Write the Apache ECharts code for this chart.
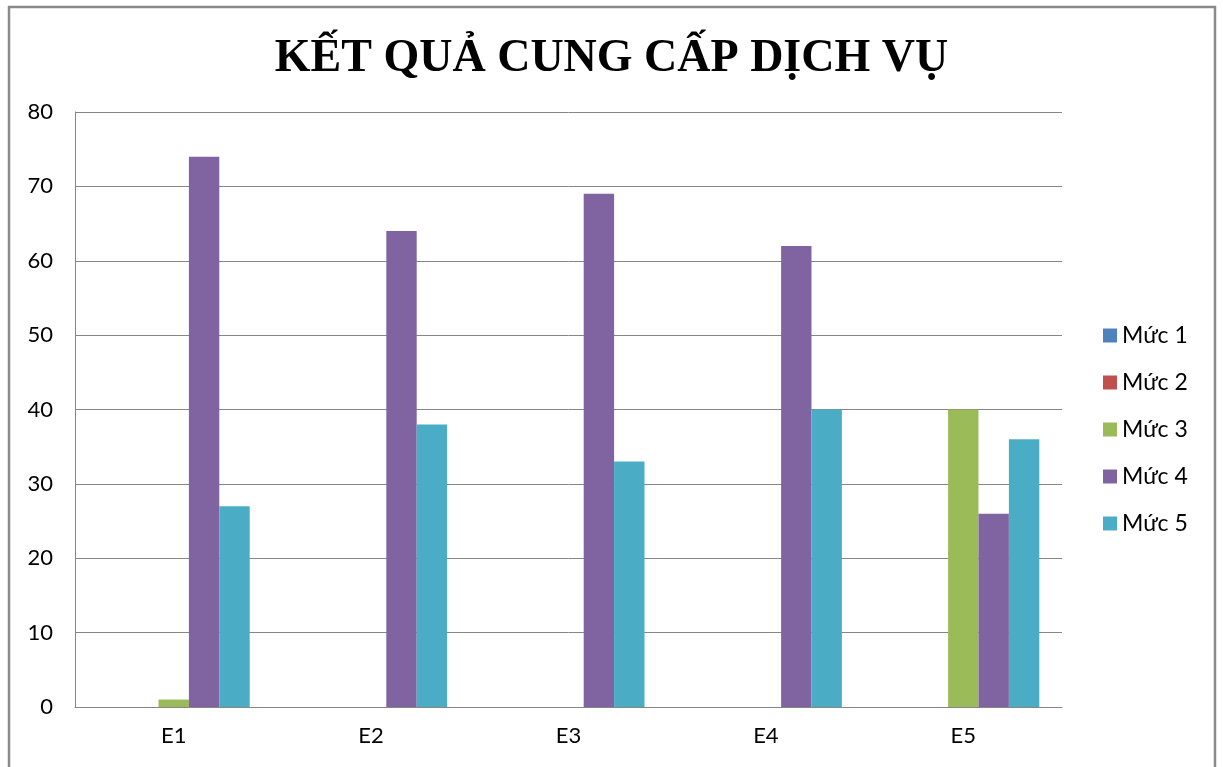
<!DOCTYPE html>
<html>
<head>
<meta charset="utf-8">
<script src="https://cdn.jsdelivr.net/npm/echarts@6/dist/echarts.min.js"></script>
<style>
  html, body { margin: 0; padding: 0; background: #fff; }
  #chart { width: 1223px; height: 767px; }
</style>
</head>
<body>
<div id="chart"></div>
<script>
// data
const categories = ["E1", "E2", "E3", "E4", "E5"];
const muc1 = [0, 0, 0, 0, 0];
const muc2 = [0, 0, 0, 0, 0];
const muc3 = [1, 0, 0, 0, 40];
const muc4 = [74, 64, 69, 62, 26];
const muc5 = [27, 38, 33, 40, 36];
const seriesNames = ["Mức 1", "Mức 2", "Mức 3", "Mức 4", "Mức 5"];
const colors = ["#4F81BD", "#C0504D", "#9BBB59", "#8064A2", "#4BACC6"];

const chart = echarts.init(document.getElementById("chart"));
const allValues = [muc1, muc2, muc3, muc4, muc5];

const option = {
  animation: false,
  color: colors,
  title: {
    text: "KẾT QUẢ CUNG CẤP DỊCH VỤ",
    left: "center",
    top: 31,
    textStyle: {
      fontFamily: "Liberation Serif",
      fontWeight: "bold",
      fontSize: 46,
      color: "#000"
    }
  },
  graphic: [{
    type: "rect",
    shape: { x: 9, y: 7, width: 1206, height: 800 },
    style: { fill: "none", stroke: "#8a8a8a", lineWidth: 2.5 },
    silent: true
  }],
  legend: {
    orient: "vertical",
    left: 1098,
    top: 319,
    itemWidth: 14,
    itemHeight: 14,
    itemGap: 24,
    icon: "rect",
    textStyle: { fontFamily: "Lato", fontSize: 23, color: "#000", padding: [0, 0, 0, 0] },
    data: seriesNames
  },
  grid: { left: 75, right: 161, top: 112, bottom: 60 },
  xAxis: {
    type: "category",
    data: categories,
    axisLine: { lineStyle: { color: "#868686", width: 1 } },
    axisTick: { show: false },
    axisLabel: { fontFamily: "Lato", fontSize: 22, color: "#000", margin: 18 }
  },
  yAxis: {
    type: "value",
    min: 0,
    max: 80,
    interval: 10,
    axisLine: { show: true, lineStyle: { color: "#868686", width: 1 } },
    axisTick: { show: false },
    splitLine: { lineStyle: { color: "#868686", width: 1 } },
    axisLabel: { fontFamily: "Lato", fontSize: 22, color: "#000", margin: 22 }
  },
  series: seriesNames.map((name, i) => ({
    name: name,
    type: "bar",
    data: allValues[i],
    barGap: "0%",
    barCategoryGap: "23%"
  }))
};

chart.setOption(option);
</script>
</body>
</html>
